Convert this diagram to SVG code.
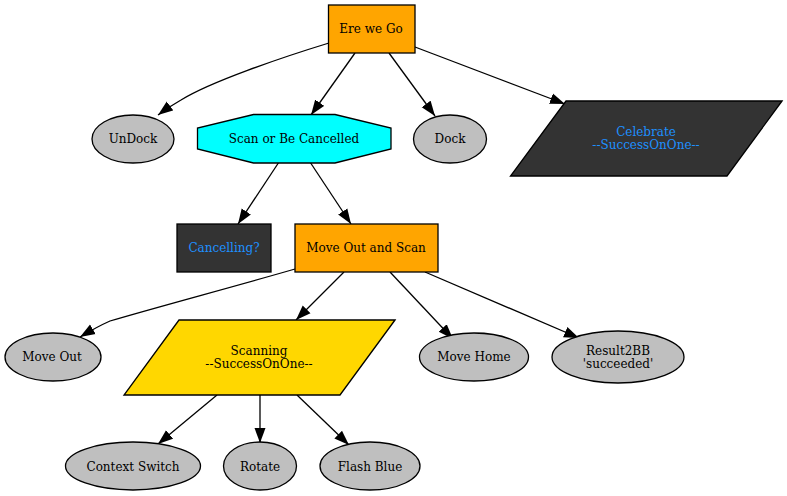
<svg xmlns="http://www.w3.org/2000/svg" width="787" height="496" viewBox="0 0 787 496">
<style>
text{font-family:"DejaVu Serif","Liberation Serif",serif;font-size:12px;text-anchor:middle;fill:#000}
.n{stroke:#000;stroke-width:1.3}
.g{fill:#bfbfbf}
.o{fill:#ffa500}
.d{fill:#333}
text.b{fill:#1e90ff}
.e{fill:none;stroke:#000;stroke-width:1.3;marker-end:url(#a)}
</style>
<defs><marker id="a" markerUnits="userSpaceOnUse" markerWidth="17" markerHeight="13" refX="15" refY="6" orient="auto"><path d="M0 0.500L15 6L0 11.500Z" fill="#000"/></marker></defs>
<rect width="787" height="496" fill="#fff"/>
<g id="edges">
<path class="e" d="M329 43C280 58 210 82 181 100C174 104 166 109 158 115"/>
<path class="e" d="M355 53L311 115"/>
<path class="e" d="M389 53L435 116"/>
<path class="e" d="M415 47L565 104"/>
<path class="e" d="M279 162L238 224"/>
<path class="e" d="M310 162L351 224"/>
<path class="e" d="M295 269C240 285 150 309 110 321C101 325 90 331 80 337"/>
<path class="e" d="M344 272L296 320"/>
<path class="e" d="M390 272L453 339"/>
<path class="e" d="M425 272L579 338"/>
<path class="e" d="M217 395L158 444"/>
<path class="e" d="M260 395L260 443"/>
<path class="e" d="M297 395L349 445"/>
</g>
<g id="root"><rect class="n o" x="328.500" y="5" width="86.500" height="48"/><text x="371" y="32.500">Ere we Go</text></g>
<g id="undock"><ellipse class="n g" cx="133" cy="139" rx="41" ry="24"/><text x="133" y="142.500">UnDock</text></g>
<g id="scan"><polygon class="n" fill="#0ff" points="391,128 391,149 335,163 253.500,163 197.500,149 197.500,128 253.500,114.500 335,114.500"/><text x="294" y="142.500">Scan or Be Cancelled</text></g>
<g id="dock"><ellipse class="n g" cx="450" cy="139" rx="36.500" ry="24"/><text x="450" y="142.500">Dock</text></g>
<g id="celebrate"><polygon class="n d" points="782,101 727,176 510.500,176 566,101"/><text class="b" x="646" y="135.500">Celebrate</text><text class="b" x="646" y="148.500">--SuccessOnOne--</text></g>
<g id="cancelling"><rect class="n d" x="177" y="224" width="94" height="48"/><text class="b" x="224" y="251.500">Cancelling?</text></g>
<g id="moveoutscan"><rect class="n o" x="295" y="224" width="143" height="48"/><text x="366" y="251.500">Move Out and Scan</text></g>
<g id="moveout"><ellipse class="n g" cx="53" cy="357" rx="48" ry="24"/><text x="52" y="360.500">Move Out</text></g>
<g id="scanning"><polygon class="n" fill="#ffd700" points="395,320 340,395 124,395 179,320"/><text x="259" y="354.500">Scanning</text><text x="259" y="367.500">--SuccessOnOne--</text></g>
<g id="movehome"><ellipse class="n g" cx="474" cy="357" rx="54.500" ry="24"/><text x="474" y="360.500">Move Home</text></g>
<g id="result"><ellipse class="n g" cx="618" cy="357" rx="66" ry="26"/><text x="618" y="354.500">Result2BB</text><text x="618" y="367.500">'succeeded'</text></g>
<g id="context"><ellipse class="n g" cx="133" cy="466" rx="67.500" ry="24"/><text x="133" y="470.500">Context Switch</text></g>
<g id="rotate"><ellipse class="n g" cx="260" cy="466" rx="36.500" ry="24"/><text x="260" y="470.500">Rotate</text></g>
<g id="flash"><ellipse class="n g" cx="370" cy="466" rx="50" ry="24"/><text x="370" y="470.500">Flash Blue</text></g>
</svg>
